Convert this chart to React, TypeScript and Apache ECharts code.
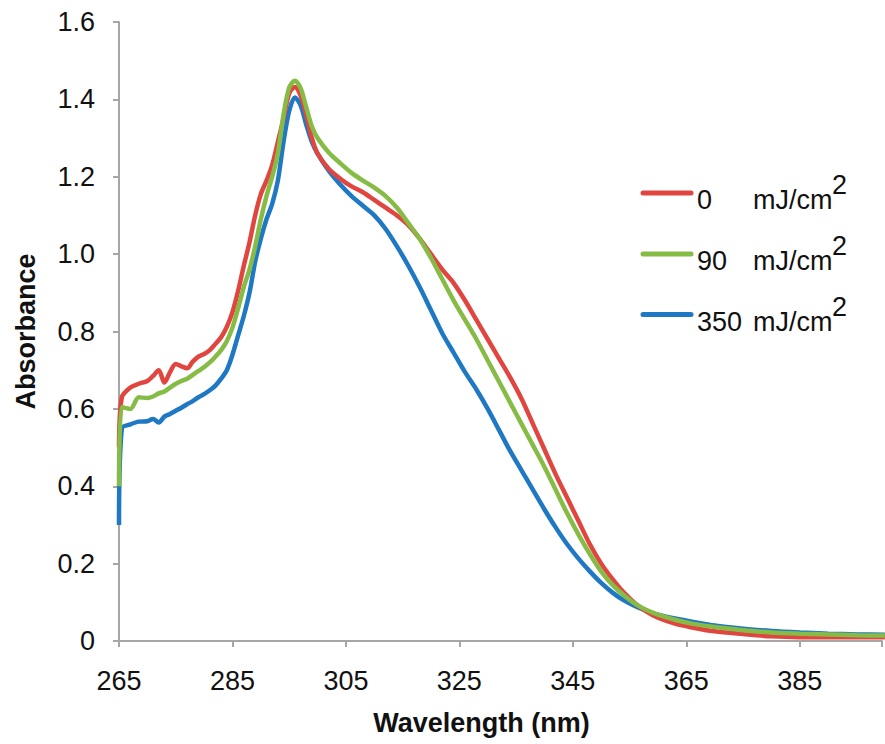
import React, { useEffect, useRef } from "react";
import * as echarts from "echarts";

const wavelengths = [265, 265.5, 267, 268.5, 270, 271, 272, 273, 274, 275, 276, 277, 278, 279, 280, 281, 282, 283, 284, 285, 286, 287, 288, 289, 290, 291, 292, 293, 294, 295, 296, 297, 298, 299, 300, 302, 304, 306, 308, 310, 312, 314, 316, 318, 320, 322, 324, 326, 328, 330, 332, 334, 336, 338, 340, 342, 344, 346, 348, 350, 352, 354, 356, 358, 360, 363, 366, 370, 375, 380, 385, 390, 395, 400];

const absorbance0 = [0.50, 0.63, 0.655, 0.665, 0.672, 0.685, 0.70, 0.668, 0.695, 0.716, 0.71, 0.705, 0.722, 0.735, 0.742, 0.752, 0.768, 0.785, 0.812, 0.85, 0.905, 0.97, 1.03, 1.10, 1.155, 1.19, 1.23, 1.29, 1.35, 1.415, 1.432, 1.41, 1.36, 1.30, 1.26, 1.22, 1.195, 1.175, 1.16, 1.14, 1.12, 1.10, 1.075, 1.04, 1.00, 0.96, 0.925, 0.88, 0.83, 0.78, 0.73, 0.68, 0.625, 0.56, 0.495, 0.43, 0.37, 0.31, 0.25, 0.20, 0.16, 0.125, 0.097, 0.076, 0.06, 0.045, 0.035, 0.025, 0.018, 0.012, 0.01, 0.01, 0.01, 0.01];

const absorbance90 = [0.40, 0.605, 0.60, 0.63, 0.628, 0.632, 0.64, 0.645, 0.655, 0.665, 0.672, 0.678, 0.688, 0.698, 0.708, 0.72, 0.735, 0.752, 0.775, 0.81, 0.86, 0.915, 0.96, 1.02, 1.09, 1.15, 1.20, 1.26, 1.36, 1.43, 1.448, 1.43, 1.38, 1.33, 1.30, 1.262, 1.235, 1.21, 1.19, 1.172, 1.15, 1.12, 1.08, 1.04, 0.99, 0.935, 0.88, 0.83, 0.78, 0.725, 0.67, 0.615, 0.56, 0.505, 0.45, 0.39, 0.33, 0.275, 0.225, 0.18, 0.145, 0.118, 0.096, 0.08, 0.068, 0.055, 0.045, 0.036, 0.028, 0.022, 0.019, 0.017, 0.015, 0.014];

const absorbance350 = [0.30, 0.55, 0.56, 0.567, 0.568, 0.574, 0.565, 0.58, 0.587, 0.595, 0.603, 0.612, 0.62, 0.63, 0.638, 0.648, 0.66, 0.678, 0.70, 0.74, 0.79, 0.84, 0.9, 0.98, 1.04, 1.09, 1.13, 1.19, 1.29, 1.37, 1.405, 1.385, 1.335, 1.29, 1.26, 1.215, 1.18, 1.15, 1.125, 1.10, 1.065, 1.02, 0.97, 0.915, 0.855, 0.795, 0.745, 0.695, 0.65, 0.60, 0.545, 0.49, 0.44, 0.39, 0.34, 0.293, 0.25, 0.213, 0.18, 0.15, 0.125, 0.105, 0.09, 0.078, 0.068, 0.058, 0.05, 0.04, 0.032, 0.026, 0.022, 0.019, 0.017, 0.016];

const doses = ["0", "90", "350"];
const doseUnit = "mJ/cm";
const doseSup = "2";
const xTickLabels = [265, 285, 305, 325, 345, 365, 385];
const xStart = 265;
const xEnd = 399.5;
const xStep = 20;
const yMin = 0;
const yMax = 1.6;
const yStep = 0.2;

const COLORS = ["#E0463F", "#86BC45", "#1E78C3"];
const FONT = "'Liberation Sans', Arial, Helvetica, sans-serif";

export default function App() {
  const ref = useRef<HTMLDivElement | null>(null);

  useEffect(() => {
    if (!ref.current) return;
    const chart = echarts.init(ref.current, null, { renderer: "svg" });
    const seriesValues = [absorbance0, absorbance90, absorbance350];
    const zs = [3, 4, 2];

    const legendRowsY = [193, 254, 314.5];
    const graphic: any[] = [];
    doses.forEach((d, i) => {
      const y = legendRowsY[i];
      graphic.push({
        type: "line",
        shape: { x1: 643, y1: y, x2: 691, y2: y },
        style: { stroke: COLORS[i], lineWidth: 5, lineCap: "round" },
      });
      graphic.push({
        type: "text",
        x: 697,
        y: y + 7,
        style: { text: d, font: `27px ${FONT}`, fill: "#111", textVerticalAlign: "middle", textAlign: "left" },
      });
      graphic.push({
        type: "text",
        x: 753,
        y: y + 7,
        style: { text: doseUnit, font: `27px ${FONT}`, fill: "#111", textVerticalAlign: "middle", textAlign: "left" },
      });
      graphic.push({
        type: "text",
        x: 832,
        y: y - 8,
        style: { text: doseSup, font: `27px ${FONT}`, fill: "#111", textVerticalAlign: "middle", textAlign: "left" },
      });
    });

    chart.setOption({
      animation: false,
      backgroundColor: "#ffffff",
      grid: { left: 119, right: 0, top: 22, bottom: 103, containLabel: false },
      xAxis: {
        type: "value",
        min: 0,
        max: xEnd - xStart,
        interval: xStep,
        name: "Wavelength (nm)",
        nameLocation: "middle",
        nameGap: 68,
        nameTextStyle: { fontFamily: FONT, fontSize: 27, fontWeight: "bold", color: "#111", padding: [0, 38, 0, 0] },
        axisLine: { show: true, lineStyle: { color: "#A6A6A6", width: 2 } },
        axisTick: { show: true, length: 6, lineStyle: { color: "#A6A6A6", width: 2 } },
        splitLine: { show: false },
        axisLabel: {
          margin: 26,
          fontFamily: FONT,
          fontSize: 27,
          color: "#111",
          formatter: (v: number) => {
            const w = Math.round(v + xStart);
            return xTickLabels.indexOf(w) >= 0 ? String(w) : "";
          },
        },
      },
      yAxis: {
        type: "value",
        min: yMin,
        max: yMax,
        interval: yStep,
        name: "Absorbance",
        nameLocation: "middle",
        nameGap: 80,
        nameTextStyle: { fontFamily: FONT, fontSize: 27, fontWeight: "bold", color: "#111" },
        axisLine: { show: true, lineStyle: { color: "#A6A6A6", width: 2 } },
        axisTick: { show: true, length: 6, lineStyle: { color: "#A6A6A6", width: 2 } },
        splitLine: { show: false },
        axisLabel: {
          margin: 24,
          fontFamily: FONT,
          fontSize: 27,
          color: "#111",
          formatter: (v: number) => (Math.abs(v) < 1e-9 ? "0" : v.toFixed(1)),
        },
      },
      series: doses.map((d, i) => ({
        name: `${d} ${doseUnit}${doseSup}`,
        type: "line",
        z: zs[i],
        showSymbol: false,
        smooth: 0.3,
        clip: true,
        lineStyle: { color: COLORS[i], width: 4.5 },
        itemStyle: { color: COLORS[i] },
        data: wavelengths.map((w, k) => [w - xStart, seriesValues[i][k]]),
      })),
      graphic,
    });

    return () => chart.dispose();
  }, []);

  return (
    <div
      ref={ref}
      style={{ position: "fixed", left: 0, top: 0, width: 885, height: 744, background: "#fff" }}
    />
  );
}
